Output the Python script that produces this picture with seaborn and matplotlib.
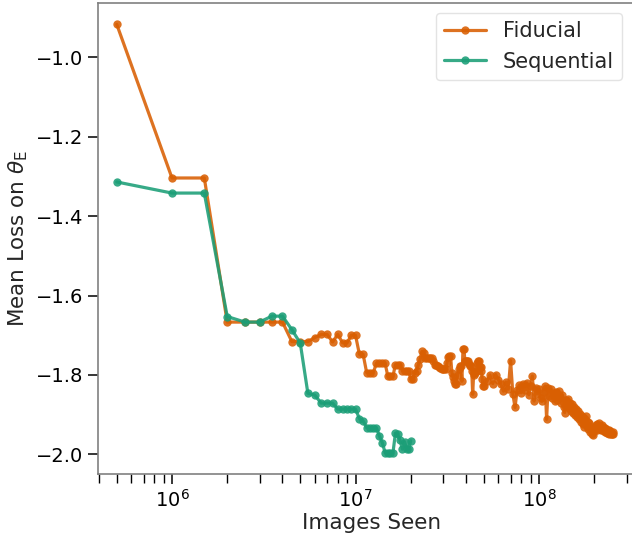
import numpy as np
import pandas as pd
import matplotlib
matplotlib.use("Agg")
import matplotlib.pyplot as plt
import seaborn as sns

# ---------------- data ----------------
IMAGES_PER_STEP = 5e5

fid_steps = list(range(1, 101)) + list(range(104, 509, 4))
fid_loss = [
    -0.917, -1.304, -1.304, -1.667, -1.667, -1.667, -1.667, -1.667, -1.716, -1.716,
    -1.716, -1.706, -1.698, -1.698, -1.717, -1.698, -1.719, -1.719, -1.700, -1.700,
    -1.748, -1.748, -1.794, -1.794, -1.794, -1.771, -1.771, -1.771, -1.771, -1.803,
    -1.803, -1.803, -1.774, -1.774, -1.774, -1.790, -1.790, -1.790, -1.790, -1.810,
    -1.810, -1.795, -1.790, -1.775, -1.760, -1.741, -1.745, -1.757, -1.757, -1.757,
    -1.757, -1.757, -1.765, -1.774, -1.776, -1.778, -1.780, -1.782, -1.784, -1.786,
    -1.786, -1.786, -1.770, -1.755, -1.753, -1.753, -1.795, -1.805, -1.815, -1.824,
    -1.824, -1.800, -1.785, -1.778, -1.778, -1.816, -1.736, -1.736, -1.766, -1.766,
    -1.766, -1.766, -1.772, -1.778, -1.778, -1.790, -1.849, -1.800, -1.795, -1.795,
    -1.790, -1.770, -1.766, -1.766, -1.780, -1.780, -1.790, -1.810, -1.828, -1.828,
    # k = 104 ... 508, every 4
    -1.816, -1.800, -1.822, -1.799, -1.812, -1.824, -1.841, -1.818, -1.836, -1.764,
    -1.848, -1.882, -1.838, -1.826, -1.845, -1.822, -1.838, -1.820, -1.850, -1.828,
    -1.803, -1.866, -1.832, -1.848, -1.836, -1.858, -1.866, -1.842, -1.828, -1.912,
    -1.834, -1.852, -1.836, -1.858, -1.846, -1.866, -1.842, -1.862, -1.840, -1.856,
    -1.872, -1.850, -1.880, -1.895, -1.862, -1.878, -1.860, -1.884, -1.870, -1.890,
    -1.874, -1.896, -1.880, -1.900, -1.886, -1.906, -1.892, -1.912, -1.898, -1.918,
    -1.904, -1.924, -1.930, -1.910, -1.904, -1.928, -1.918, -1.936, -1.922, -1.944,
    -1.930, -1.950, -1.938, -1.952, -1.942, -1.934, -1.926, -1.938, -1.924, -1.934,
    -1.922, -1.936, -1.928, -1.940, -1.925, -1.938, -1.930, -1.942, -1.934, -1.944,
    -1.936, -1.946, -1.938, -1.946, -1.940, -1.948, -1.942, -1.948, -1.944, -1.950,
    -1.944, -1.948,
]

seq_steps = list(range(1, 41))
seq_loss = [
    -1.314, -1.342, -1.342, -1.653, -1.667, -1.667, -1.652, -1.652, -1.686, -1.720,
    -1.846, -1.851, -1.871, -1.871, -1.871, -1.886, -1.886, -1.886, -1.886, -1.886,
    -1.910, -1.916, -1.933, -1.933, -1.933, -1.933, -1.954, -1.971, -1.996, -1.996,
    -1.996, -1.996, -1.947, -1.950, -1.965, -1.987, -1.968, -1.987, -1.986, -1.966,
]

series_names = ["Fiducial", "Sequential"]
series_colors = ["#d95f02", "#1b9e77"]
y_ticks = [-1.0, -1.2, -1.4, -1.6, -1.8, -2.0]

df = pd.concat([
    pd.DataFrame({"images": np.array(fid_steps) * IMAGES_PER_STEP,
                  "loss": fid_loss, "run": series_names[0]}),
    pd.DataFrame({"images": np.array(seq_steps) * IMAGES_PER_STEP,
                  "loss": seq_loss, "run": series_names[1]}),
], ignore_index=True)

# ---------------- style ----------------
sns.set_theme(style="ticks")
plt.rcParams.update({
    "font.family": ["DejaVu Sans"],
    "axes.edgecolor": "#808080",
    "axes.linewidth": 1.2,
    "xtick.color": "black",
    "ytick.color": "black",
    "xtick.major.size": 7.5,
    "xtick.minor.size": 6.5,
    "ytick.major.size": 7.5,
    "xtick.major.width": 1.1,
    "xtick.minor.width": 1.0,
    "ytick.major.width": 1.1,
    "xtick.labelsize": 14,
    "ytick.labelsize": 14,
    "axes.labelsize": 15.5,
    "legend.fontsize": 15,
})

W, H = 632, 536
fig = plt.figure(figsize=(W / 100, H / 100), dpi=100)
ax_w = 645 - 98.3
ax_h = 474 - 2.7
ax = fig.add_axes([98.3 / W, 1 - 474 / H, ax_w / W, ax_h / H])

for name, color in zip(series_names, series_colors):
    sub = df[df["run"] == name]
    sns.lineplot(data=sub, x="images", y="loss", color=color, label=name,
                 marker="o", markersize=6, markeredgewidth=0,
                 linewidth=2.3, alpha=0.88, estimator=None, sort=False, ax=ax)

ax.set_xscale("log")
ax.set_xlim(3.967e5, 3.78e8)
ax.set_ylim(-2.0496, -0.8625)
ax.set_yticks(y_ticks)
ax.set_xlabel("Images Seen", labelpad=1)
ax.set_ylabel(r"Mean Loss on $\theta_{\mathrm{E}}$")
ax.tick_params(axis="y", which="minor", left=False)

leg = ax.legend(loc="upper right",
                bbox_to_anchor=((622 - 98.3) / ax_w, 1 - (13 - 2.7) / ax_h),
                borderaxespad=0, frameon=True)
leg.get_frame().set_edgecolor("#dddddd")

fig.savefig("out.png", dpi=100)
